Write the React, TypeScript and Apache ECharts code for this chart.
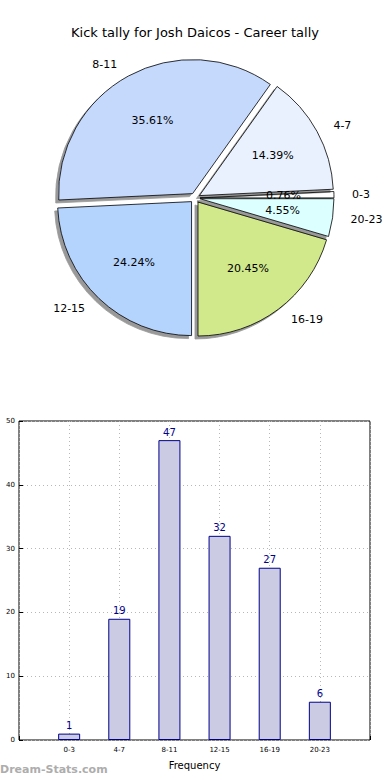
import React, { useEffect, useRef } from "react";
import * as echarts from "echarts";

const categories = ["0-3", "4-7", "8-11", "12-15", "16-19", "20-23"];
const values = [1, 19, 47, 32, 27, 6];
const sliceColors = ["#ffffff", "#eaf1fe", "#c5d9fd", "#b4d4fd", "#d1e98b", "#dcffff"];
const yTicks = { min: 0, max: 50, interval: 10 };
const titleText = "Kick tally for Josh Daicos - Career tally";

export default function App() {
  const ref = useRef<HTMLDivElement>(null);
  useEffect(() => {
    if (!ref.current) return;
    const chart = echarts.init(ref.current, null, { renderer: "svg" });
    const total = values.reduce((a, b) => a + b, 0);
    const font = "DejaVu Sans";
    const pieData = categories.map((c, i) => ({
      name: c,
      value: values[i],
      selected: true,
      itemStyle: { color: sliceColors[i] },
    }));
    const pieCommon = {
      type: "pie",
      center: [195, 198],
      startAngle: 0,
      clockwise: false,
      selectedMode: "multiple",
      selectedOffset: 5,
      avoidLabelOverlap: false,
      emphasis: { disabled: true },
      silent: true,
    };
    chart.setOption({
      animation: false,
      textStyle: { fontFamily: font },
      title: {
        text: titleText,
        left: "center",
        top: 21,
        textStyle: { fontSize: 13, fontWeight: "normal", color: "#000", fontFamily: font },
      },
      grid: {
        left: 19,
        right: 20,
        top: 421,
        bottom: 40,
        show: true,
        borderColor: "#000",
        borderWidth: 1,
        backgroundColor: "transparent",
      },
      xAxis: {
        type: "category",
        boundaryGap: false,
        data: ["", ...categories, ""],
        name: "Frequency",
        nameLocation: "middle",
        nameGap: 20,
        nameTextStyle: { fontSize: 10, color: "#000", fontFamily: font },
        axisLine: { show: false },
        axisTick: { show: true, inside: true, length: 4, lineStyle: { color: "#000" } },
        axisLabel: { fontSize: 7, color: "#000", margin: 6, interval: 0, fontFamily: font },
        splitLine: { show: true, lineStyle: { type: [1, 3], color: "#b8b8b8" } },
      },
      yAxis: {
        type: "value",
        min: yTicks.min,
        max: yTicks.max,
        interval: yTicks.interval,
        axisLine: { show: false },
        axisTick: { show: true, inside: true, length: 4, lineStyle: { color: "#000" } },
        axisLabel: { fontSize: 7, color: "#000", margin: 4, fontFamily: font },
        splitLine: { show: true, lineStyle: { type: [1, 3], color: "#b8b8b8" } },
      },
      graphic: [
        {
          type: "text",
          left: 0,
          top: 764,
          style: { text: "Dream-Stats.com", fontSize: 11, fontWeight: "bold", fill: "#adadad", fontFamily: font },
        },
      ],
      series: [
        {
          ...pieCommon,
          radius: 134,
          label: { show: true, position: "outside", formatter: "{b}", fontSize: 11, color: "#000", fontFamily: font },
          labelLine: { show: false, length: 13, length2: 0 },
          itemStyle: {
            borderColor: "#000",
            borderWidth: 0.8,
            shadowColor: "rgba(0,0,0,0.4)",
            shadowBlur: 0,
            shadowOffsetX: -3,
            shadowOffsetY: 3,
          },
          data: pieData,
        },
        {
          ...pieCommon,
          radius: [27, 134],
          label: {
            show: true,
            position: "inside",
            formatter: (p: any) => ((p.value / total) * 100).toFixed(2) + "%",
            fontSize: 11,
            color: "#000",
            fontFamily: font,
          },
          labelLine: { show: false },
          itemStyle: { color: "rgba(0,0,0,0)", borderWidth: 0 },
          data: pieData.map((d) => ({ ...d, itemStyle: { color: "rgba(0,0,0,0)" } })),
        },
        {
          type: "bar",
          data: ["-", ...values, "-"],
          barWidth: 22,
          itemStyle: { color: "#cbcbe3", borderColor: "#00008b", borderWidth: 1 },
          label: { show: true, position: "top", distance: 3, color: "#00008b", fontSize: 10, fontFamily: font },
          emphasis: { disabled: true },
          silent: true,
        },
      ],
    });
    return () => chart.dispose();
  }, []);
  return (
    <div
      ref={ref}
      style={{ position: "fixed", left: 0, top: 0, width: 390, height: 780, background: "#fff" }}
    />
  );
}
